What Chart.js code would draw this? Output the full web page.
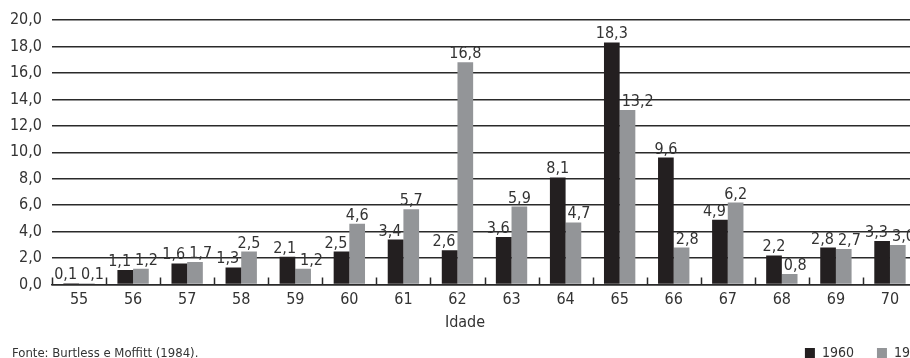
<!DOCTYPE html>
<html>
<head>
<meta charset="utf-8">
<title>Idade de aposentadoria</title>
<script src="https://cdn.jsdelivr.net/npm/chart.js@4.4.0/dist/chart.umd.min.js"></script>
<style>
  html, body { margin: 0; padding: 0; background: #fff; overflow: hidden; }
  #wrap { width: 949px; height: 358px; }
</style>
</head>
<body>
<div id="wrap"><canvas id="ageChart" width="949" height="358"></canvas></div>
<script>
// Distribuição das aposentadorias por idade (%)
const ages = ['55', '56', '57', '58', '59', '60', '61', '62', '63', '64', '65', '66', '67', '68', '69', '70'];
const share1960 = [0.1, 1.1, 1.6, 1.3, 2.1, 2.5, 3.4, 2.6, 3.6, 8.1, 18.3, 9.6, 4.9, 2.2, 2.8, 3.3];
const share1980 = [0.1, 1.2, 1.7, 2.5, 1.2, 4.6, 5.7, 16.8, 5.9, 4.7, 13.2, 2.8, 6.2, 0.8, 2.7, 3.0];
const seriesNames = ['1960', '1980'];
const yMin = 0, yMax = 20, yStep = 2;
const axisTitle = 'Idade';
const sourceNote = 'Fonte: Burtless e Moffitt (1984).';

const FONT = "'Liberation Sans Narrow', 'DejaVu Sans Condensed', 'Open Sans', sans-serif";
const TEXT = '#333333';
const LINE = '#2a2a2a';
const COLORS = ['#231f20', '#939598'];

const fmt = v => v.toFixed(1).replace('.', ',');

// value printed above every bar, kept clear of the taller neighbour bar
// and of the other label in the same category
const valueLabels = {
  id: 'valueLabels',
  afterDatasetsDraw(chart) {
    const ctx = chart.ctx;
    const m0 = chart.getDatasetMeta(0);
    const m1 = chart.getDatasetMeta(1);
    ctx.save();
    ctx.font = '16px ' + FONT;
    ctx.fillStyle = TEXT;
    ctx.textAlign = 'center';
    ctx.textBaseline = 'alphabetic';
    m0.data.forEach((bar0, i) => {
      const bar1 = m1.data[i];
      const a = { text: fmt(chart.data.datasets[0].data[i]), x: bar0.x, y: bar0.y - 4 };
      const b = { text: fmt(chart.data.datasets[1].data[i]), x: bar1.x, y: bar1.y - 4 };
      a.w = ctx.measureText(a.text).width;
      b.w = ctx.measureText(b.text).width;
      if (bar1.y < a.y) {
        const limit = bar1.x - bar1.width / 2 - 2;
        if (a.x + a.w / 2 > limit) a.x = limit - a.w / 2;
      }
      if (bar0.y < b.y) {
        const limit = bar0.x + bar0.width / 2 + 2;
        if (b.x - b.w / 2 < limit) b.x = limit + b.w / 2;
      }
      if (Math.abs(a.y - b.y) < 14) {
        const overlap = (a.x + a.w / 2 + 4) - (b.x - b.w / 2);
        if (overlap > 0) { a.x -= overlap / 2; b.x += overlap / 2; }
      }
      ctx.fillText(a.text, a.x, a.y);
      ctx.fillText(b.text, b.x, b.y);
    });
    ctx.restore();
  }
};

// short inner tick marks between the age categories
const categoryTicks = {
  id: 'categoryTicks',
  afterDraw(chart) {
    const xs = chart.scales.x;
    const ctx = chart.ctx;
    const half = (xs.getPixelForValue(1) - xs.getPixelForValue(0)) / 2;
    const base = chart.chartArea.bottom;
    ctx.save();
    ctx.strokeStyle = LINE;
    ctx.lineWidth = 1.5;
    ctx.beginPath();
    for (let i = 0; i <= ages.length; i++) {
      const px = Math.round(xs.getPixelForValue(0) - half + i * 2 * half) + 0.5;
      ctx.moveTo(px, base);
      ctx.lineTo(px, base - 7);
    }
    ctx.stroke();
    ctx.restore();
  }
};

// source line on the same row as the legend
const sourceLine = {
  id: 'sourceLine',
  afterDraw(chart) {
    const box = chart.legend.legendHitBoxes[0];
    const ctx = chart.ctx;
    ctx.save();
    ctx.font = '13px ' + FONT;
    ctx.fillStyle = TEXT;
    ctx.textAlign = 'left';
    ctx.textBaseline = 'middle';
    ctx.fillText(sourceNote, 12, box.top + box.height / 2 + 1);
    ctx.restore();
  }
};

new Chart(document.getElementById('ageChart'), {
  type: 'bar',
  data: {
    labels: ages,
    datasets: [
      { label: seriesNames[0], data: share1960, backgroundColor: COLORS[0] },
      { label: seriesNames[1], data: share1980, backgroundColor: COLORS[1] }
    ]
  },
  options: {
    responsive: false,
    animation: false,
    devicePixelRatio: 1,
    layout: { padding: { top: 20, right: 0, bottom: -12, left: -19 } },
    datasets: {
      bar: { categoryPercentage: 0.58, barPercentage: 1.0, borderWidth: 0 }
    },
    scales: {
      x: {
        grid: { display: false, drawTicks: false },
        border: { display: true, color: LINE, width: 1.6 },
        ticks: { color: TEXT, font: { family: FONT, size: 16 }, padding: 6 }
      },
      y: {
        min: yMin,
        max: yMax,
        afterFit(scale) { scale.width = 71; },
        grid: { color: LINE, lineWidth: 1.5, drawTicks: false },
        border: { display: false },
        ticks: {
          stepSize: yStep,
          color: TEXT,
          font: { family: FONT, size: 16 },
          padding: 10,
          callback: v => fmt(v)
        }
      },
      edge: {
        position: 'right',
        afterFit(scale) { scale.width = 32; },
        grid: { display: false },
        border: { display: false },
        ticks: { display: false }
      }
    },
    plugins: {
      title: {
        display: true,
        text: axisTitle,
        position: 'bottom',
        weight: 500,
        color: TEXT,
        font: { family: FONT, size: 16, weight: 'normal' },
        padding: { top: -3, bottom: -9 }
      },
      legend: {
        position: 'bottom',
        align: 'end',
        labels: {
          boxWidth: 10,
          boxHeight: 10,
          padding: 23,
          color: TEXT,
          font: { family: FONT, size: 14 }
        }
      },
      tooltip: { enabled: false }
    }
  },
  plugins: [valueLabels, categoryTicks, sourceLine]
});
</script>
</body>
</html>
